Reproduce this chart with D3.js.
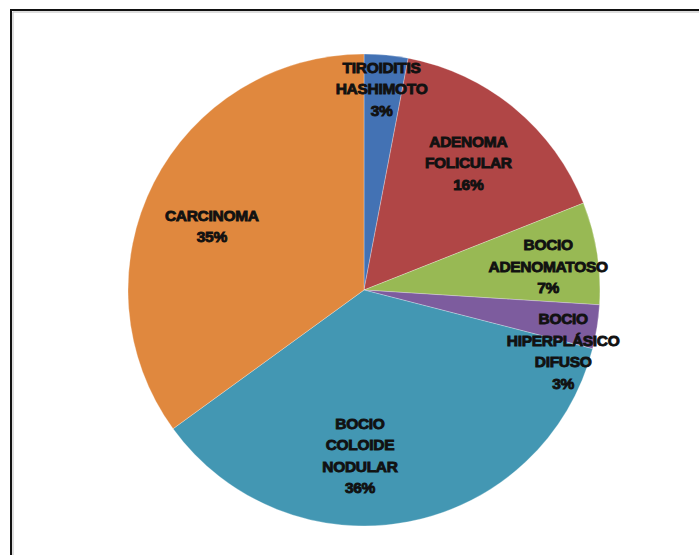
<!DOCTYPE html>
<html>
<head>
<meta charset="utf-8">
<script src="https://cdn.jsdelivr.net/npm/d3@7"></script>
<style>
  body { margin: 0; background: #fff; }
  svg { display: block; }
  .lbl { font-family: "Liberation Sans", Arial, sans-serif; font-weight: bold; font-size: 15.5px; fill: #111; stroke: #111; stroke-width: 0.9px; letter-spacing: -0.3px; }
</style>
</head>
<body>
<svg id="chart"></svg>
<script>
// categories, label lines and percentages
var categories = ["TIROIDITIS HASHIMOTO", "ADENOMA FOLICULAR", "BOCIO ADENOMATOSO",
                  "BOCIO HIPERPLÁSICO DIFUSO", "BOCIO COLOIDE NODULAR", "CARCINOMA"];
var labelLines = [["TIROIDITIS", "HASHIMOTO"], ["ADENOMA", "FOLICULAR"], ["BOCIO", "ADENOMATOSO"],
                  ["BOCIO", "HIPERPLÁSICO", "DIFUSO"], ["BOCIO", "COLOIDE", "NODULAR"], ["CARCINOMA"]];
var values = [3, 16, 7, 3, 36, 35];

var colors = ["#4372b4", "#b04646", "#98b954", "#7d5c9e", "#4397b3", "#e0883e"];

var width = 699;
var height = 555;
var cx = 364, cy = 290, radius = 236;

var svg = d3.select("#chart")
  .attr("width", width)
  .attr("height", height);

// frame (top and left edges only show in the picture)
svg.append("path")
  .attr("d", "M11,555 V10 H699")
  .style("fill", "none")
  .style("stroke", "#111")
  .style("stroke-width", 2);
svg.append("path")
  .attr("d", "M13,555 V12 H699")
  .style("fill", "none")
  .style("stroke", "#bbb")
  .style("stroke-width", 1);

var g = svg.append("g")
  .attr("transform", "translate(" + cx + "," + cy + ")");

var pie = d3.pie().sort(null).value(function(d) { return d; });
var arc = d3.arc().innerRadius(0).outerRadius(radius);
var labelArc = d3.arc().innerRadius(radius * 0.7).outerRadius(radius * 0.7);

var arcs = pie(values);

g.selectAll("path.slice")
  .data(arcs)
  .enter()
  .append("path")
  .attr("class", "slice")
  .attr("d", arc)
  .attr("fill", function(d, i) { return colors[i]; })
  .style("stroke", "#fff")
  .style("stroke-opacity", 0.35)
  .style("stroke-width", 0.8);

// excel "best fit" moves a few labels away from the centroid
var nudge = [[2, -37], [-1, 0], [21, 2], [36, 35], [-35, 3], [-5, 11]];
var lineH = 21.5;

arcs.forEach(function(d, i) {
  var c = labelArc.centroid(d);
  var x = c[0] + nudge[i][0];
  var y = c[1] + nudge[i][1];
  var lines = labelLines[i].concat([values[i] + "%"]);
  var text = g.append("text")
    .attr("class", "lbl")
    .attr("text-anchor", "middle")
    .attr("x", x)
    .attr("y", y - (lines.length - 1) * lineH / 2 + 5.5);
  lines.forEach(function(l, j) {
    text.append("tspan")
      .attr("x", x)
      .attr("dy", j == 0 ? 0 : lineH)
      .text(l);
  });
});
</script>
</body>
</html>
